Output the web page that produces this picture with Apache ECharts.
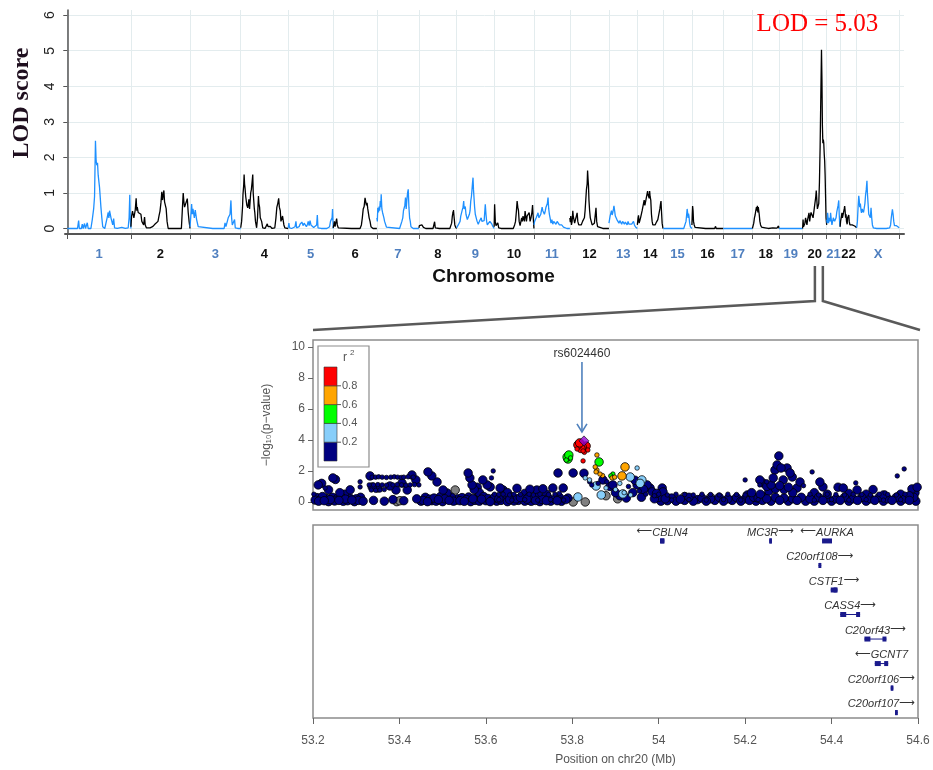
<!DOCTYPE html>
<html>
<head>
<meta charset="utf-8">
<script src="https://cdn.jsdelivr.net/npm/echarts@6/dist/echarts.min.js"></script>
<style>
  html, body { margin: 0; padding: 0; background: #ffffff; }
  #chart { width: 933px; height: 770px; }
</style>
</head>
<body>
<div id="chart"></div>
<script>
// ---------- Genome-wide linkage scan (LOD score by chromosome, positions in cM) ----------
const chromosomes = ['1','2','3','4','5','6','7','8','9','10','11','12','13','14','15','16','17','18','19','20','21','22','X'];
const chrLengthsCM = [280,260,223,209,198,192,185,166,165,175,158,172,125,114,126,138,128,117,104,106,59,73,187];

const lodChr1 = [[0,0],[20,0],[45,0],[50,0.22],[53,0],[62,0],[66,0.12],[70,0],[76,0.14],[80,0],[88,0.16],[92,0],[104,0],[110,0.25],[116,0.55],[120,0.9],[124,2.47],[127,1.9],[130,1.78],[133,1.85],[136,1.5],[139,1.55],[142,1.15],[145,1.2],[148,0.6],[152,0.3],[156,0.05],[165,0],[172,0.05],[176,0.32],[180,0.45],[183,0.3],[186,0.5],[190,0.52],[193,0.28],[196,0.3],[200,0.1],[204,0.28],[208,0.02],[220,0],[240,0.03],[255,0],[268,0.02],[272,0.3],[275,0.95],[277,0.3],[280,0]];
const lodChr2 = [[0,0.05],[3,0.35],[7,0.49],[13,0.3],[19,0.52],[23,0.85],[26,0.5],[28,0.6],[32,0.45],[36,0.5],[40,0.47],[44,0.4],[48,0.2],[52,0.22],[56,0.1],[60,0.32],[63,0.1],[68,0.02],[84,0.02],[95,0.05],[104,0.11],[112,0.1],[119,0.2],[124,0.37],[128,0.49],[132,0.72],[136,1.03],[139,0.8],[142,0.85],[145,1.07],[148,0.75],[151,0.75],[155,0.56],[159,0.2],[164,0],[186,0],[222,0],[226,0.5],[230,1.0],[233,0.75],[236,0.6],[240,0.55],[244,0.55],[248,0.84],[252,0.45],[256,0.2],[260,0]];
const lodChr3 = [[0,0.05],[3,0.3],[7,0.69],[10,0.4],[13,0.55],[16,0.56],[19,0.3],[23,0.52],[26,0.5],[29,0.25],[32,0.2],[36,0.05],[44,0],[100,0],[150,0],[154,0.16],[158,0.05],[163,0.1],[168,0.3],[173,0.25],[176,0.4],[180,0.79],[183,0.3],[186,0.1],[190,0.05],[196,0.25],[199,0.02],[210,0],[223,0]];
const lodChr4 = [[0,0.02],[4,0.2],[8,0.6],[10,0.96],[13,1.2],[15,1.52],[17,1.25],[19,1.14],[22,0.9],[24,0.86],[27,0.65],[29,0.7],[31,0.58],[34,0.6],[36,0.82],[39,0.55],[41,0.6],[44,1.0],[47,1.1],[50,1.3],[53,1.52],[55,1.0],[57,0.95],[60,0.55],[62,0.45],[65,0.2],[70,0.02],[74,0.3],[78,0.91],[80,0.7],[83,0.6],[86,0.3],[89,0.25],[92,0.2],[97,0.02],[107,0],[113,0.02],[117,0.13],[120,0.05],[123,0.1],[126,0.04],[130,0.06],[138,0],[150,0.02],[155,0.3],[159,0.6],[163,0.7],[167,0.85],[170,0.6],[174,0.5],[177,0.2],[180,0.2],[184,0.35],[187,0.3],[190,0.1],[194,0.02],[209,0]];
const lodChr5 = [[0,0.02],[3,0.15],[6,0.02],[15,0],[30,0.05],[34,0.2],[37,0.02],[48,0.05],[52,0.12],[56,0.1],[60,0.18],[63,0.22],[66,0.08],[70,0.15],[74,0.1],[77,0.2],[80,0.05],[85,0.12],[88,0.2],[92,0.08],[96,0.22],[100,0.1],[106,0.06],[112,0.03],[118,0.02],[125,0.1],[128,0.38],[131,0.02],[145,0],[170,0],[182,0.05],[186,0.2],[190,0.25],[193,0.3],[195,0.55],[198,0]];
const lodChr6 = [[0,0.02],[3,0.12],[5,0.2],[8,0.05],[11,0.1],[15,0.28],[18,0.1],[22,0.02],[30,0],[80,0],[118,0],[124,0.1],[128,0.3],[132,0.55],[136,0.62],[140,0.86],[143,0.75],[146,0.65],[149,0.72],[152,0.55],[155,0.5],[158,0.3],[162,0.2],[166,0.05],[175,0],[192,0]];
const lodChr7 = [[0,0.3],[2,0.2],[4,0.58],[7,0.45],[10,0.62],[12,0.5],[15,0.77],[17,0.6],[19,0.96],[22,0.55],[25,0.45],[28,0.5],[31,0.3],[34,0.2],[37,0.15],[42,0.04],[50,0],[100,0],[106,0.05],[110,0.2],[114,0.3],[117,0.5],[120,0.45],[123,0.65],[126,0.87],[129,0.55],[132,0.8],[135,1.0],[138,1.1],[141,0.6],[144,0.3],[147,0.2],[150,0.05],[160,0],[185,0]];
const lodChr8 = [[0,0.02],[2,0.08],[5,0.05],[7,0.13],[10,0.06],[13,0.1],[16,0.12],[20,0.03],[30,0],[62,0],[66,0.05],[69,0.19],[72,0.02],[90,0],[136,0],[140,0.05],[144,0.15],[147,0.35],[150,0.45],[152,0.52],[155,0.3],[158,0.1],[162,0.03],[166,0]];
const lodChr9 = [[0,0.02],[3,0.04],[7,0.1],[11,0.15],[15,0.2],[18,0.35],[22,0.4],[25,0.53],[28,0.6],[31,0.77],[33,0.55],[35,0.5],[38,0.62],[41,0.4],[44,0.35],[47,0.25],[50,0.3],[53,0.28],[56,0.4],[59,0.5],[62,0.77],[65,0.9],[67,1.05],[70,1.3],[72,1.43],[74,1.1],[76,1.05],[79,0.6],[82,0.4],[86,0.3],[90,0.2],[95,0.12],[100,0.2],[105,0.25],[108,0.3],[111,0.2],[114,0.15],[118,0.2],[121,0.22],[124,0.5],[126,0.68],[129,0.4],[132,0.2],[135,0.1],[140,0.05],[146,0.2],[150,0.15],[155,0.12],[160,0.05],[165,0]];
const lodChr10 = [[0,0.05],[2,0.68],[5,0.2],[8,0.08],[12,0.1],[16,0.16],[20,0.02],[30,0],[84,0],[90,0.1],[94,0.2],[98,0.5],[101,0.77],[104,0.6],[107,0.5],[110,0.2],[114,0.08],[118,0.1],[121,0.3],[124,0.2],[127,0.35],[130,0.3],[133,0.2],[136,0.49],[139,0.35],[142,0.2],[145,0.35],[148,0.4],[151,0.3],[154,0.45],[158,0.2],[162,0.3],[166,0.45],[169,0.66],[171,0.4],[175,0]];
const lodChr11 = [[0,0.1],[3,0.2],[6,0.15],[10,0.3],[14,0.25],[18,0.44],[22,0.3],[26,0.35],[30,0.4],[33,0.5],[36,0.6],[39,0.5],[42,0.55],[46,0.4],[50,0.5],[53,0.6],[56,0.55],[59,0.7],[62,0.87],[65,0.55],[68,0.4],[71,0.3],[75,0.15],[79,0.25],[83,0.12],[87,0.2],[92,0.18],[97,0.12],[102,0.2],[107,0.22],[112,0.1],[117,0.12],[122,0.1],[130,0.04],[138,0.03],[145,0],[158,0]];
const lodChr12 = [[0,0.3],[2,0.18],[4,0.35],[7,0.1],[10,0.2],[13,0.5],[15,0.35],[18,0.35],[21,0.15],[24,0.2],[28,0.2],[32,0.44],[35,0.2],[39,0.1],[44,0.07],[50,0.1],[56,0.2],[60,0.2],[64,0.3],[67,0.5],[70,0.8],[73,1.1],[76,1.25],[78,1.63],[80,1.4],[82,1.2],[84,0.8],[87,0.5],[90,0.3],[94,0.2],[98,0.1],[103,0.07],[108,0.15],[112,0.2],[115,0.58],[118,0.2],[122,0.05],[130,0.02],[145,0],[172,0]];
const lodChr13 = [[0,0.15],[2,0.2],[5,0.35],[8,0.4],[11,0.5],[14,0.38],[17,0.45],[20,0.55],[22,0.64],[25,0.5],[28,0.35],[31,0.3],[35,0.25],[39,0.2],[44,0.15],[48,0.22],[52,0.2],[56,0.12],[60,0.2],[64,0.15],[68,0.12],[72,0.18],[76,0.15],[80,0.1],[84,0.2],[88,0.12],[92,0.08],[96,0.15],[100,0.12],[104,0.1],[108,0.2],[112,0.1],[117,0.04],[121,0.02],[125,0]];
const lodChr14 = [[0,0.1],[3,0.3],[5,0.37],[8,0.15],[11,0.2],[14,0.3],[18,0.35],[21,0.5],[24,0.6],[27,0.7],[30,0.8],[33,0.65],[36,0.6],[39,0.85],[42,0.9],[45,1.05],[47,0.95],[50,1.0],[52,0.85],[54,1.05],[56,0.9],[59,0.8],[62,0.4],[65,0.2],[68,0.1],[72,0.05],[78,0.1],[84,0.18],[90,0.25],[95,0.3],[99,0.55],[102,0.7],[104,0.77],[106,0.5],[109,0.15],[112,0.02],[114,0]];
const lodChr15 = [[0,0],[30,0],[60,0],[90,0],[97,0.05],[100,0.2],[103,0.4],[105,0.55],[107,0.45],[109,0.3],[111,0.42],[113,0.35],[116,0.15],[119,0.05],[122,0.02],[126,0]];
const lodChr16 = [[0,0.1],[1.5,0.4],[3,0.63],[5,0.5],[7,0.2],[10,0.1],[14,0.03],[20,0],[60,0],[100,0],[104,0.06],[107,0],[138,0]];
const lodChr17 = [[0,0],[40,0],[80,0],[128,0]];
const lodChr18 = [[0,0],[3,0.05],[6,0.15],[9,0.3],[12,0.38],[15,0.5],[18,0.6],[20,0.5],[22,0.64],[24,0.45],[26,0.6],[28,0.55],[30,0.4],[33,0.2],[36,0.1],[40,0.04],[45,0.01],[56,0.02],[70,0],[90,0.02],[108,0.01],[113,0],[115,0.07],[117,0]];
const lodChr19 = [[0,0],[50,0],[104,0]];
const lodChr20 = [[0,0],[2,0.25],[4,0.05],[7,0.1],[10,0.15],[13,0.3],[16,0.35],[19,0.1],[22,0.25],[25,0.3],[28,0.44],[31,0.2],[34,0.35],[37,0.45],[40,0.5],[43,0.48],[46,0.3],[49,0.35],[52,0.6],[55,0.65],[58,0.9],[60,1.07],[62,0.85],[65,0.55],[68,0.5],[71,0.7],[74,1.3],[77,2.3],[80,3.7],[83,5.03],[85,4.2],[87,2.9],[89,2.4],[91,2.5],[93,2.4],[95,2.1],[97,1.9],[99,1.5],[101,0.9],[103,0.3],[106,0.1]];
const lodChr21 = [[0,0.25],[2,0.15],[4,0.44],[6,0.3],[8,0.15],[11,0.3],[13,0.3],[15,0.2],[17,0.44],[20,0.25],[23,0.1],[26,0.12],[29,0.3],[32,0.35],[35,0.2],[38,0.25],[41,0.3],[44,0.45],[47,0.5],[50,0.65],[53,0.79],[55,0.4],[57,0.15],[59,0.05]];
const lodChr22 = [[0,0.05],[2,0.2],[4,0.28],[6,0.35],[8,0.44],[10,0.3],[13,0.25],[15,0.45],[18,0.55],[20,0.63],[22,0.5],[24,0.3],[26,0.4],[28,0.2],[31,0.12],[33,0.3],[36,0.35],[38,0.38],[40,0.2],[43,0.1],[46,0.05],[50,0.15],[53,0.1],[56,0.05],[60,0.08],[64,0.07],[67,0.1],[70,0.05],[73,0.02]];
const lodChrX = [[0,0.02],[3,0.2],[6,0.6],[9,0.92],[11,0.8],[13,0.6],[16,0.7],[19,0.5],[21,0.44],[24,0.55],[27,0.6],[30,0.45],[33,0.5],[36,0.7],[39,0.95],[42,1.1],[45,1.34],[47,1.0],[50,0.7],[53,0.4],[56,0.35],[60,0.3],[63,0.58],[66,0.3],[69,0.1],[73,0.02],[88,0],[130,0],[145,0.02],[149,0.1],[152,0.3],[155,0.45],[157,0.54],[160,0.4],[163,0.2],[166,0.08],[170,0.05],[175,0.08],[179,0.11],[183,0.04],[187,0.02]];

const lodByChr = [lodChr1, lodChr2, lodChr3, lodChr4, lodChr5, lodChr6, lodChr7, lodChr8, lodChr9, lodChr10,
  lodChr11, lodChr12, lodChr13, lodChr14, lodChr15, lodChr16, lodChr17, lodChr18, lodChr19, lodChr20,
  lodChr21, lodChr22, lodChrX];
const lodTicks = [0, 1, 2, 3, 4, 5, 6];

// chr20 interval that is expanded in the regional plot below (cM within chr20)
const focusChr = '20';
const focusWindowCM = [54, 89];

// ---------- Regional association plot, chr20 (Mb, -log10 p, r^2 with lead SNP) ----------
const leadSnpName = 'rs6024460';
const leadSnp = [53.827, 3.94];
const regionTicksMb = [53.2, 53.4, 53.6, 53.8, 54.0, 54.2, 54.4, 54.6];
const logpTicks = [0, 2, 4, 6, 8, 10];
const r2Breaks = [0.2, 0.4, 0.6, 0.8];

// genotyped SNPs: [position Mb, -log10 p, r2]  (r2 null = not available)
const snpsGenotyped = [
  [53.205,0.12,0.05],[53.209,0.28,0.04],[53.213,0.05,0.06],[53.218,0.18,0.03],[53.222,0.35,0.05],[53.226,0.08,0.07],[53.231,0.22,0.04],[53.236,0.02,0.05],[53.24,0.15,0.06],[53.245,0.3,0.03],[53.25,0.06,0.05],[53.255,0.2,0.04],[53.26,0.1,0.08],[53.265,0.33,0.05],[53.27,0.04,0.03],[53.275,0.18,0.06],[53.28,0.08,0.05],[53.285,0.26,0.04],[53.29,0.12,0.07],[53.296,0.02,0.05],[53.3,0.2,0.04],[53.305,0.1,0.05],[53.31,0.3,0.03],[53.316,0.05,0.06],
  [53.212,1.1,0.08],[53.22,1.2,0.06],[53.246,1.55,0.1],[53.252,1.45,0.09],[53.236,0.78,0.05],[53.286,0.78,0.07],[53.273,0.5,0.04],[53.262,0.6,0.05],
  [53.332,1.68,0.1],[53.337,0.97,0.06],[53.35,0.9,0.05],[53.378,1.03,0.07],[53.406,1.22,0.08],[53.429,1.74,0.1],[53.438,1.42,0.09],[53.418,0.77,0.06],[53.392,0.77,0.05],[53.34,0.1,0.04],[53.365,0.05,0.05],[53.385,0.15,0.03],[53.41,0.08,0.05],[53.44,0.2,0.06],[53.45,0.05,0.04],
  [53.394,0.02,null],[53.401,0.08,null],
  [53.466,1.94,0.1],[53.475,1.68,0.08],[53.487,1.29,0.07],[53.501,0.77,0.06],[53.51,0.58,0.05],[53.559,1.87,0.11],[53.563,1.55,0.09],[53.568,1.1,0.07],[53.573,0.8,0.06],[53.593,1.42,0.08],[53.603,1.1,0.07],[53.61,0.97,0.06],[53.58,0.95,0.05],[53.585,0.6,0.05],
  [53.455,0.1,0.05],[53.46,0.3,0.04],[53.465,0.02,0.06],[53.47,0.18,0.05],[53.475,0.08,0.03],[53.48,0.25,0.05],[53.485,0.05,0.04],[53.49,0.15,0.06],[53.495,0.35,0.05],[53.5,0.02,0.04],[53.505,0.2,0.05],[53.515,0.1,0.06],[53.52,0.3,0.04],[53.525,0.05,0.05],[53.535,0.2,0.03],[53.54,0.08,0.05],[53.545,0.28,0.04],[53.55,0.04,0.06],[53.555,0.15,0.05],[53.56,0.32,0.04],[53.565,0.02,0.05],[53.57,0.2,0.06],[53.575,0.1,0.05],[53.58,0.3,0.04],[53.585,0.05,0.05],[53.59,0.18,0.06],[53.595,0.35,0.05],[53.6,0.08,0.04],[53.605,0.22,0.05],[53.61,0.02,0.06],[53.615,0.15,0.05],
  [53.529,0.77,null],[53.53,0.1,null],
  [53.633,0.9,0.06],[53.64,0.77,0.05],[53.672,0.88,0.07],[53.702,0.82,0.06],[53.718,0.77,0.05],[53.732,0.85,0.06],[53.755,0.9,0.07],[53.767,1.87,0.12],[53.779,0.9,0.06],[53.65,0.6,0.05],[53.69,0.55,0.04],[53.74,0.5,0.05],
  [53.62,0.3,0.05],[53.625,0.05,0.04],[53.63,0.2,0.06],[53.635,0.1,0.05],[53.645,0.25,0.04],[53.65,0.02,0.05],[53.655,0.15,0.06],[53.66,0.32,0.05],[53.665,0.06,0.04],[53.67,0.2,0.05],[53.675,0.1,0.03],[53.68,0.28,0.05],[53.69,0.05,0.04],[53.695,0.18,0.06],[53.7,0.35,0.05],[53.705,0.04,0.04],[53.71,0.2,0.05],[53.715,0.1,0.06],[53.72,0.3,0.05],[53.725,0.02,0.04],[53.73,0.16,0.05],[53.74,0.08,0.06],[53.745,0.25,0.05],[53.75,0.05,0.04],[53.76,0.18,0.05],[53.765,0.08,0.06],[53.77,0.3,0.04],[53.775,0.04,0.05],[53.785,0.15,0.05],[53.79,0.25,0.04],
  [53.686,0.4,null],[53.7,0.1,null],
  [53.802,1.87,0.1],[53.827,1.85,0.12],[53.894,1.1,0.15],[53.871,1.42,0.13],[53.887,1.0,0.1],[53.945,1.4,0.15],[53.95,1.1,0.12],[53.973,1.1,0.1],[53.98,0.9,0.08],[53.985,0.65,0.1],[53.9,0.6,0.12],[53.91,0.4,0.08],[53.925,0.25,0.1],[53.94,0.6,0.14],[53.96,0.3,0.1],[53.965,0.8,0.12],[53.99,0.2,0.08],[53.995,0.55,0.1],
  [53.813,3.68,0.92],[53.817,3.81,0.95],[53.823,3.55,0.9],[53.832,3.61,0.88],[53.82,3.45,0.91],
  [53.788,2.9,0.5],[53.792,3.03,0.52],[53.79,2.77,0.48],[53.862,2.58,0.45],
  [53.922,2.26,0.65],[53.915,1.68,0.62],
  [53.934,1.61,0.3],[53.961,1.42,0.28],[53.813,0.32,0.25],[53.855,1.03,0.3],[53.867,0.45,0.22],[53.917,0.52,0.26],[53.957,1.2,0.3],
  [53.802,0.0,null],[53.83,0.0,null],[53.878,0.4,null],[53.905,0.2,null],
  [54.008,0.9,0.05],[54.01,0.65,0.06],[54.0,0.3,0.05],[54.005,0.05,0.04],[54.015,0.2,0.06],[54.02,0.08,0.05],[54.03,0.25,0.04],[54.04,0.05,0.05],[54.05,0.18,0.05],[54.06,0.1,0.04],[54.07,0.3,0.06],[54.08,0.05,0.05],[54.09,0.15,0.04],[54.1,0.25,0.05],[54.11,0.05,0.06],[54.12,0.2,0.05],[54.13,0.1,0.04],[54.14,0.3,0.05],[54.15,0.05,0.06],[54.16,0.2,0.05],[54.17,0.1,0.04],[54.18,0.28,0.05],[54.19,0.05,0.06],[54.2,0.2,0.05],[54.205,0.45,0.04],[54.21,0.1,0.05],[54.215,0.6,0.06],[54.22,0.3,0.05],[54.225,0.05,0.04],[54.23,0.25,0.05],[54.235,0.5,0.06],[54.24,0.1,0.05],[54.245,0.35,0.04],
  [54.12,0.3,null],[54.06,0.35,null],
  [54.278,2.97,0.12],[54.274,2.39,0.1],[54.283,2.19,0.11],[54.297,2.19,0.1],[54.269,2.06,0.09],[54.304,1.87,0.1],[54.309,1.61,0.08],[54.265,1.55,0.1],[54.288,1.42,0.09],[54.327,1.29,0.07],[54.241,1.23,0.06],[54.234,1.42,0.07],[54.25,1.0,0.06],[54.26,1.1,0.08],[54.27,0.85,0.07],[54.28,1.05,0.09],[54.29,0.8,0.06],[54.3,0.95,0.07],[54.255,0.7,0.05],[54.31,0.6,0.06],[54.32,0.9,0.05],
  [54.25,0.2,0.05],[54.26,0.05,0.04],[54.27,0.3,0.05],[54.28,0.1,0.06],[54.29,0.25,0.05],[54.3,0.05,0.04],[54.31,0.2,0.05],[54.32,0.1,0.06],[54.33,0.3,0.05],[54.34,0.05,0.04],
  [54.373,1.29,0.08],[54.38,0.97,0.07],[54.415,0.95,0.06],[54.427,0.9,0.07],[54.459,0.77,0.06],[54.496,0.8,0.05],[54.586,0.84,0.06],[54.593,0.6,0.05],[54.598,0.95,0.07],[54.36,0.6,0.05],[54.39,0.5,0.06],[54.44,0.55,0.05],[54.48,0.5,0.05],[54.52,0.45,0.06],[54.56,0.5,0.05],[54.58,0.4,0.06],
  [54.35,0.2,0.05],[54.36,0.05,0.04],[54.37,0.3,0.05],[54.38,0.1,0.06],[54.39,0.25,0.05],[54.4,0.05,0.04],[54.41,0.2,0.05],[54.42,0.1,0.06],[54.43,0.3,0.05],[54.44,0.05,0.04],[54.45,0.2,0.05],[54.46,0.1,0.06],[54.47,0.3,0.05],[54.48,0.05,0.04],[54.49,0.2,0.05],[54.5,0.1,0.06],[54.51,0.3,0.05],[54.52,0.05,0.04],[54.53,0.2,0.05],[54.54,0.1,0.06],[54.55,0.3,0.05],[54.56,0.05,0.04],[54.57,0.2,0.05],[54.58,0.1,0.06],[54.59,0.3,0.05],[54.595,0.05,0.04]
];

// imputed SNPs: [position Mb, -log10 p, r2]
const snpsImputed = [
  [53.309,1.3,0.06],[53.309,0.97,0.05],[53.228,0.9,0.04],[53.202,0.5,0.05],
  [53.337,1.6,0.06],[53.345,1.6,0.06],[53.352,1.62,0.06],[53.36,1.6,0.06],[53.37,1.58,0.06],[53.38,1.6,0.06],[53.388,1.62,0.06],[53.396,1.6,0.06],[53.404,1.58,0.06],[53.41,1.6,0.06],[53.42,1.62,0.06],[53.432,1.6,0.06],
  [53.33,1.1,0.05],[53.34,1.1,0.05],[53.35,1.12,0.05],[53.36,1.1,0.05],[53.37,1.08,0.05],[53.385,1.1,0.05],[53.395,1.12,0.05],[53.405,1.1,0.05],[53.415,1.08,0.05],[53.425,1.1,0.05],[53.435,1.12,0.05],[53.445,1.1,0.05],
  [53.335,0.77,0.04],[53.345,0.75,0.04],[53.355,0.77,0.04],[53.365,0.8,0.04],
  [53.617,2.0,0.08],[53.613,1.55,0.07],
  [53.62,0.5,0.04],[53.63,0.48,0.04],[53.64,0.5,0.04],[53.655,0.45,0.04],[53.665,0.5,0.04],[53.68,0.48,0.04],[53.7,0.5,0.04],[53.71,0.45,0.04],[53.725,0.5,0.04],[53.745,0.48,0.04],[53.76,0.5,0.04],[53.77,0.55,0.04],
  [53.811,3.42,0.85],[53.825,3.29,0.86],[53.836,3.35,0.88],[53.828,3.2,0.84],[53.825,2.65,0.82],
  [53.786,2.7,0.45],[53.796,2.84,0.5],[53.894,1.8,0.42],[53.889,1.68,0.44],
  [53.857,3.03,0.65],[53.853,2.26,0.68],[53.857,2.06,0.62],[53.864,1.8,0.66],[53.855,1.94,0.7],[53.892,1.55,0.61],[53.898,1.6,0.64],[53.87,1.7,0.6],
  [53.95,2.19,0.3],[53.83,1.55,0.25],[53.84,1.42,0.22],[53.878,0.9,0.28],[53.9,0.8,0.25],[53.92,0.6,0.3],[53.935,0.45,0.22],[53.91,1.2,0.24],
  [53.84,1.3,0.1],[53.845,1.1,0.12],[53.86,1.2,0.1],[53.88,1.3,0.14],[53.93,1.0,0.12],[53.955,0.7,0.1],[53.97,0.5,0.1],[53.99,0.4,0.08],
  [54.2,1.42,0.05],[54.355,1.94,0.06],[54.456,1.23,0.05],[54.524,0.58,0.04],[54.552,1.68,0.06],[54.568,2.13,0.07],[54.234,1.1,0.05],[54.25,1.3,0.06],[54.335,1.05,0.05],
  [54.0,0.5,0.04],[54.02,0.45,0.04],[54.04,0.5,0.04],[54.06,0.48,0.04],[54.08,0.45,0.04],[54.1,0.5,0.04],[54.12,0.48,0.04],[54.14,0.45,0.04],[54.16,0.5,0.04],[54.18,0.48,0.04],[54.2,0.45,0.04],
  [54.35,0.5,0.04],[54.37,0.45,0.04],[54.39,0.5,0.04],[54.41,0.48,0.04],[54.43,0.45,0.04],[54.45,0.5,0.04],[54.47,0.48,0.04],[54.49,0.45,0.04],[54.51,0.5,0.04],[54.53,0.48,0.04],[54.55,0.45,0.04],[54.57,0.5,0.04],
  [53.63,0.15,0.04],[53.66,0.12,0.04],[53.69,0.15,0.04],[53.72,0.12,0.04],[53.75,0.15,0.04],[53.78,0.12,0.04],[54.03,0.12,0.04],[54.07,0.15,0.04],[54.11,0.12,0.04],[54.15,0.15,0.04],[54.19,0.12,0.04],[54.23,0.15,0.04],[54.36,0.12,0.04],[54.4,0.15,0.04],[54.44,0.12,0.04],[54.48,0.15,0.04],[54.52,0.12,0.04],[54.56,0.15,0.04]
];

// genes in the region (Mb), track row and strand
const geneNames  = ['CBLN4', 'MC3R', 'AURKA', 'C20orf108', 'CSTF1', 'CASS4', 'C20orf43', 'GCNT7', 'C20orf106', 'C20orf107'];
const geneStart  = [54.003, 54.256, 54.378, 54.370, 54.398, 54.420, 54.476, 54.500, 54.537, 54.547];
const geneEnd    = [54.013, 54.257, 54.401, 54.376, 54.414, 54.466, 54.527, 54.531, 54.539, 54.549];
const geneRow    = [1, 1, 1, 2, 3, 4, 5, 6, 7, 8];
const geneStrand = ['-', '+', '-', '+', '+', '+', '+', '-', '+', '+'];

// ---------- derived layout helpers ----------
const chrOffsets = [];
chrLengthsCM.reduce((acc, len, i) => { chrOffsets[i] = acc; return acc + len; }, 0);
const genomeEnd = chrOffsets[chrOffsets.length - 1] + chrLengthsCM[chrLengthsCM.length - 1];
const chrBoundaries = chrOffsets.concat([genomeEnd]);
const chrMidpoints = chrOffsets.map((o, i) => o + chrLengthsCM[i] / 2);

function chrIndexAt(v) {
  for (let i = 0; i < chrOffsets.length; i++) {
    if (v >= chrOffsets[i] && v < chrOffsets[i] + chrLengthsCM[i]) return i;
  }
  return -1;
}

const BLUE = '#1e90ff';
const LABEL_BLUE = '#4f7fbf';
const r2Palette = ['#000080', '#87cefa', '#00ff00', '#ffa500', '#ff0000'];
function r2Color(r2) {
  if (r2 === null || r2 === undefined) return '#808080';
  let k = 0;
  while (k < r2Breaks.length && r2 >= r2Breaks[k]) k++;
  return r2Palette[k];
}
const byR2 = (a, b) => ((a[2] === null ? -1 : a[2]) - (b[2] === null ? -1 : b[2]));

const chart = echarts.init(document.getElementById('chart'), null, { renderer: 'canvas' });

const SANS = 'Liberation Sans, Arial, sans-serif';
const SERIF = 'Liberation Serif, Times New Roman, serif';

const lodSeries = chromosomes.map((name, i) => {
  const s = {
    type: 'line',
    name: 'chr' + name,
    xAxisIndex: 0,
    yAxisIndex: 0,
    showSymbol: false,
    symbol: 'none',
    animation: false,
    lineStyle: { width: 1.3, color: i % 2 === 0 ? BLUE : '#000000' },
    itemStyle: { color: i % 2 === 0 ? BLUE : '#000000' },
    data: lodByChr[i].map(p => [chrOffsets[i] + p[0], p[1]]),
    z: 3
  };
  if (name === focusChr) {
    s.markPoint = {
      symbol: 'circle',
      symbolSize: 0,
      data: [{ type: 'max', name: 'peak' }],
      label: {
        show: true,
        position: 'inside',
        offset: [-4, -25],
        formatter: p => 'LOD = ' + Number(p.value).toFixed(2),
        color: '#ff0000',
        fontFamily: SERIF,
        fontSize: 25
      }
    };
  }
  return s;
});

// gene track drawn with a custom series
const measureCtx = document.createElement('canvas').getContext('2d');
const geneFont = 'italic 11px ' + SANS;
const arrowFont = '11px DejaVu Sans, sans-serif';
const geneData = geneNames.map((g, i) => [geneStart[i], geneEnd[i], geneRow[i], i]);

const option = {
  animation: false,
  backgroundColor: '#ffffff',
  grid: [
    { left: 65, right: 29, top: 10, height: 224, containLabel: false },
    { left: 313, right: 15, top: 340, height: 170, show: true, borderColor: '#8c8c8c', borderWidth: 1.5, backgroundColor: 'transparent' },
    { left: 313, right: 15, top: 525, height: 193, show: true, borderColor: '#8c8c8c', borderWidth: 1.5, backgroundColor: 'transparent' }
  ],
  xAxis: [
    {
      gridIndex: 0, type: 'value', min: -10, max: genomeEnd + 21,
      name: 'Chromosome', nameLocation: 'middle', nameGap: 33,
      nameTextStyle: { fontFamily: SANS, fontWeight: 'bold', fontSize: 19, color: '#111111', padding: [0, 0, 0, 18] },
      axisLine: { show: true, onZero: false, lineStyle: { color: '#555555', width: 2 } },
      axisTick: { show: true, customValues: chrBoundaries, length: 5, lineStyle: { color: '#555555', width: 1 } },
      axisLabel: {
        show: true, customValues: chrMidpoints, margin: 14,
        fontFamily: SANS, fontWeight: 'bold', fontSize: 13,
        formatter: v => { const k = chrIndexAt(v); return k >= 0 ? chromosomes[k] : ''; },
        color: v => { const k = chrIndexAt(v); return k % 2 === 0 ? LABEL_BLUE : '#111111'; }
      },
      splitLine: { show: true, lineStyle: { color: '#e3ecee', width: 1 } }
    },
    {
      gridIndex: 1, type: 'value', min: 53.2, max: 54.6,
      axisLine: { show: false }, axisTick: { show: false }, axisLabel: { show: false }, splitLine: { show: false }
    },
    {
      gridIndex: 2, type: 'value', min: 53.2, max: 54.6,
      name: 'Position on chr20 (Mb)', nameLocation: 'middle', nameGap: 36,
      nameTextStyle: { fontFamily: SANS, fontSize: 12, color: '#555555' },
      axisLine: { show: false },
      axisTick: { show: true, customValues: regionTicksMb, length: 6, lineStyle: { color: '#666666', width: 1 } },
      axisLabel: {
        show: true, customValues: regionTicksMb, margin: 17, fontFamily: SANS, fontSize: 12, color: '#555555',
        formatter: v => String(Math.round(v * 10) / 10)
      },
      splitLine: { show: false }
    }
  ],
  yAxis: [
    {
      gridIndex: 0, type: 'value', min: -0.155, max: 6.146,
      name: 'LOD score', nameLocation: 'middle', nameGap: 31,
      nameTextStyle: { fontFamily: SERIF, fontWeight: 'bold', fontSize: 24, color: '#1f0f1f', padding: [0, 0, 0, 38] },
      axisLine: { show: true, lineStyle: { color: '#555555', width: 1.5 } },
      axisTick: { show: true, customValues: lodTicks, length: 4, lineStyle: { color: '#555555' } },
      axisLabel: { show: true, customValues: lodTicks, rotate: 90, margin: 8, fontFamily: SANS, fontSize: 14, color: '#222222' },
      splitLine: { show: true, lineStyle: { color: '#e3ecee', width: 1 } }
    },
    {
      gridIndex: 1, type: 'value', min: -0.52, max: 10.45,
      name: '\u2212log\u2081\u2080(p\u2212value)', nameLocation: 'middle', nameGap: 40,
      nameTextStyle: { fontFamily: SANS, fontSize: 12, color: '#555555' },
      axisLine: { show: false },
      axisTick: { show: true, customValues: logpTicks, length: 5, lineStyle: { color: '#666666' } },
      axisLabel: { show: true, customValues: logpTicks, margin: 8, fontFamily: SANS, fontSize: 12, color: '#555555' },
      splitLine: { show: false }
    },
    {
      gridIndex: 2, type: 'value', min: 0.35, max: 8.22, inverse: true,
      axisLine: { show: false }, axisTick: { show: false }, axisLabel: { show: false }, splitLine: { show: false }
    }
  ],
  series: lodSeries.concat([
    {
      type: 'scatter', name: 'genotyped', xAxisIndex: 1, yAxisIndex: 1,
      symbol: 'circle', symbolSize: 8.5,
      data: snpsGenotyped.slice().sort(byR2),
      itemStyle: { color: p => r2Color(p.data[2]), borderColor: '#000000', borderWidth: 0.8, opacity: 1 },
      z: 4
    },
    {
      type: 'scatter', name: 'imputed', xAxisIndex: 1, yAxisIndex: 1,
      symbol: 'circle', symbolSize: 4.5,
      data: snpsImputed.slice().sort(byR2),
      itemStyle: { color: p => r2Color(p.data[2]), borderColor: '#000000', borderWidth: 0.7, opacity: 1 },
      z: 5
    },
    {
      type: 'scatter', name: leadSnpName, xAxisIndex: 1, yAxisIndex: 1,
      symbol: 'diamond', symbolSize: 10,
      data: [leadSnp],
      itemStyle: { color: '#9400d3', borderColor: '#000000', borderWidth: 0.8 },
      z: 6
    },
    {
      type: 'custom', name: 'genes', xAxisIndex: 2, yAxisIndex: 2,
      data: geneData,
      clip: false,
      renderItem: (params, api) => {
        const i = api.value(3);
        const a = api.coord([api.value(0), api.value(2)]);
        const b = api.coord([api.value(1), api.value(2)]);
        const y = a[1];
        const w = Math.max(b[0] - a[0], 2.5);
        const fwd = geneStrand[i] === '+';
        const arrow = fwd ? '\u27F6' : '\u27F5';
        measureCtx.font = geneFont;
        const nw = measureCtx.measureText(geneNames[i]).width;
        measureCtx.font = arrowFont;
        const aw = measureCtx.measureText(arrow).width;
        const tw = nw + aw;
        const cs = params.coordSys;
        let cx = a[0] + w / 2;
        cx = Math.min(cx, cs.x + cs.width - tw / 2 - 3);
        cx = Math.max(cx, cs.x + tw / 2 + 3);
        const left = cx - tw / 2;
        const nameX = fwd ? left : left + aw;
        const arrowX = fwd ? left + nw : left;
        const ty = y - 3;
        return {
          type: 'group',
          children: [
            { type: 'line', shape: { x1: a[0], y1: y, x2: a[0] + w, y2: y }, style: { stroke: '#1a1a8c', lineWidth: 1 } },
            { type: 'rect', shape: { x: a[0], y: y - 2.5, width: Math.min(w, 6), height: 5 }, style: { fill: '#1a1a8c' } },
            { type: 'rect', shape: { x: a[0] + w - Math.min(w, 4), y: y - 2.5, width: Math.min(w, 4), height: 5 }, style: { fill: '#1a1a8c' } },
            { type: 'text', style: { text: geneNames[i], x: nameX, y: ty, align: 'left', verticalAlign: 'bottom', font: geneFont, fill: '#333333' } },
            { type: 'text', style: { text: arrow, x: arrowX, y: ty - 1, align: 'left', verticalAlign: 'bottom', font: arrowFont, fill: '#333333' } }
          ]
        };
      },
      z: 4
    }
  ])
};

chart.setOption(option);

// ---------- annotations anchored to axis / data coordinates ----------
function px(finder, value) { return chart.convertToPixel(finder, value); }

const fi = chromosomes.indexOf(focusChr);
const axisY = px({ yAxisIndex: 0 }, -0.155);
const xL = px({ xAxisIndex: 0 }, chrOffsets[fi] + focusWindowCM[0]);
const xR = px({ xAxisIndex: 0 }, chrOffsets[fi] + focusWindowCM[1]);
const regTopLeft = px({ gridIndex: 1 }, [53.2, 10.45]);
const regTopRight = px({ gridIndex: 1 }, [54.6, 10.45]);
const leadPx = px({ gridIndex: 1 }, leadSnp);

const connStyle = { stroke: '#5a5a5a', lineWidth: 2.5, fill: null };

// r2 colour key
const keyX = regTopLeft[0] + 5, keyY = regTopLeft[1] + 6;
const keyChildren = [
  { type: 'rect', shape: { x: 0, y: 0, width: 51, height: 121 }, style: { fill: '#ffffff', stroke: '#8c8c8c', lineWidth: 1.2 } },
  { type: 'text', style: { text: 'r', x: 25, y: 6, font: '12px ' + SANS, fill: '#555555' } },
  { type: 'text', style: { text: '2', x: 32, y: 3, font: '8px ' + SANS, fill: '#555555' } }
];
const blockH = 18.8;
for (let k = 0; k < 5; k++) {
  keyChildren.push({ type: 'rect', shape: { x: 6, y: 21 + (4 - k) * blockH, width: 13, height: blockH }, style: { fill: r2Palette[k], stroke: '#333333', lineWidth: 0.6 } });
}
r2Breaks.forEach((b, k) => {
  const yy = 21 + (4 - k) * blockH;
  keyChildren.push({ type: 'line', shape: { x1: 19, y1: yy, x2: 23, y2: yy }, style: { stroke: '#555555', lineWidth: 1 } });
  keyChildren.push({ type: 'text', style: { text: b.toFixed(1), x: 24, y: yy, verticalAlign: 'middle', font: '11px ' + SANS, fill: '#555555' } });
});

chart.setOption({
  graphic: [
    { type: 'polyline', shape: { points: [[xL, axisY + 32], [xL, axisY + 67], [regTopLeft[0], regTopLeft[1] - 10]] }, style: connStyle, silent: true },
    { type: 'polyline', shape: { points: [[xR, axisY + 32], [xR, axisY + 67], [regTopRight[0] + 2, regTopRight[1] - 10]] }, style: connStyle, silent: true },
    { type: 'group', x: keyX, y: keyY, children: keyChildren, silent: true },
    { type: 'text', x: leadPx[0] - 2, y: regTopLeft[1] + 14, style: { text: leadSnpName, align: 'center', verticalAlign: 'middle', font: '12px ' + SANS, fill: '#333333' }, silent: true },
    { type: 'line', shape: { x1: leadPx[0] - 2, y1: regTopLeft[1] + 22, x2: leadPx[0] - 2, y2: leadPx[1] - 9 }, style: { stroke: '#4f81bd', lineWidth: 1.6 }, silent: true },
    { type: 'polyline', shape: { points: [[leadPx[0] - 7, leadPx[1] - 17], [leadPx[0] - 2, leadPx[1] - 9], [leadPx[0] + 3, leadPx[1] - 17]] }, style: { stroke: '#4f81bd', lineWidth: 1.6, fill: null }, silent: true }
  ]
});
</script>
</body>
</html>
